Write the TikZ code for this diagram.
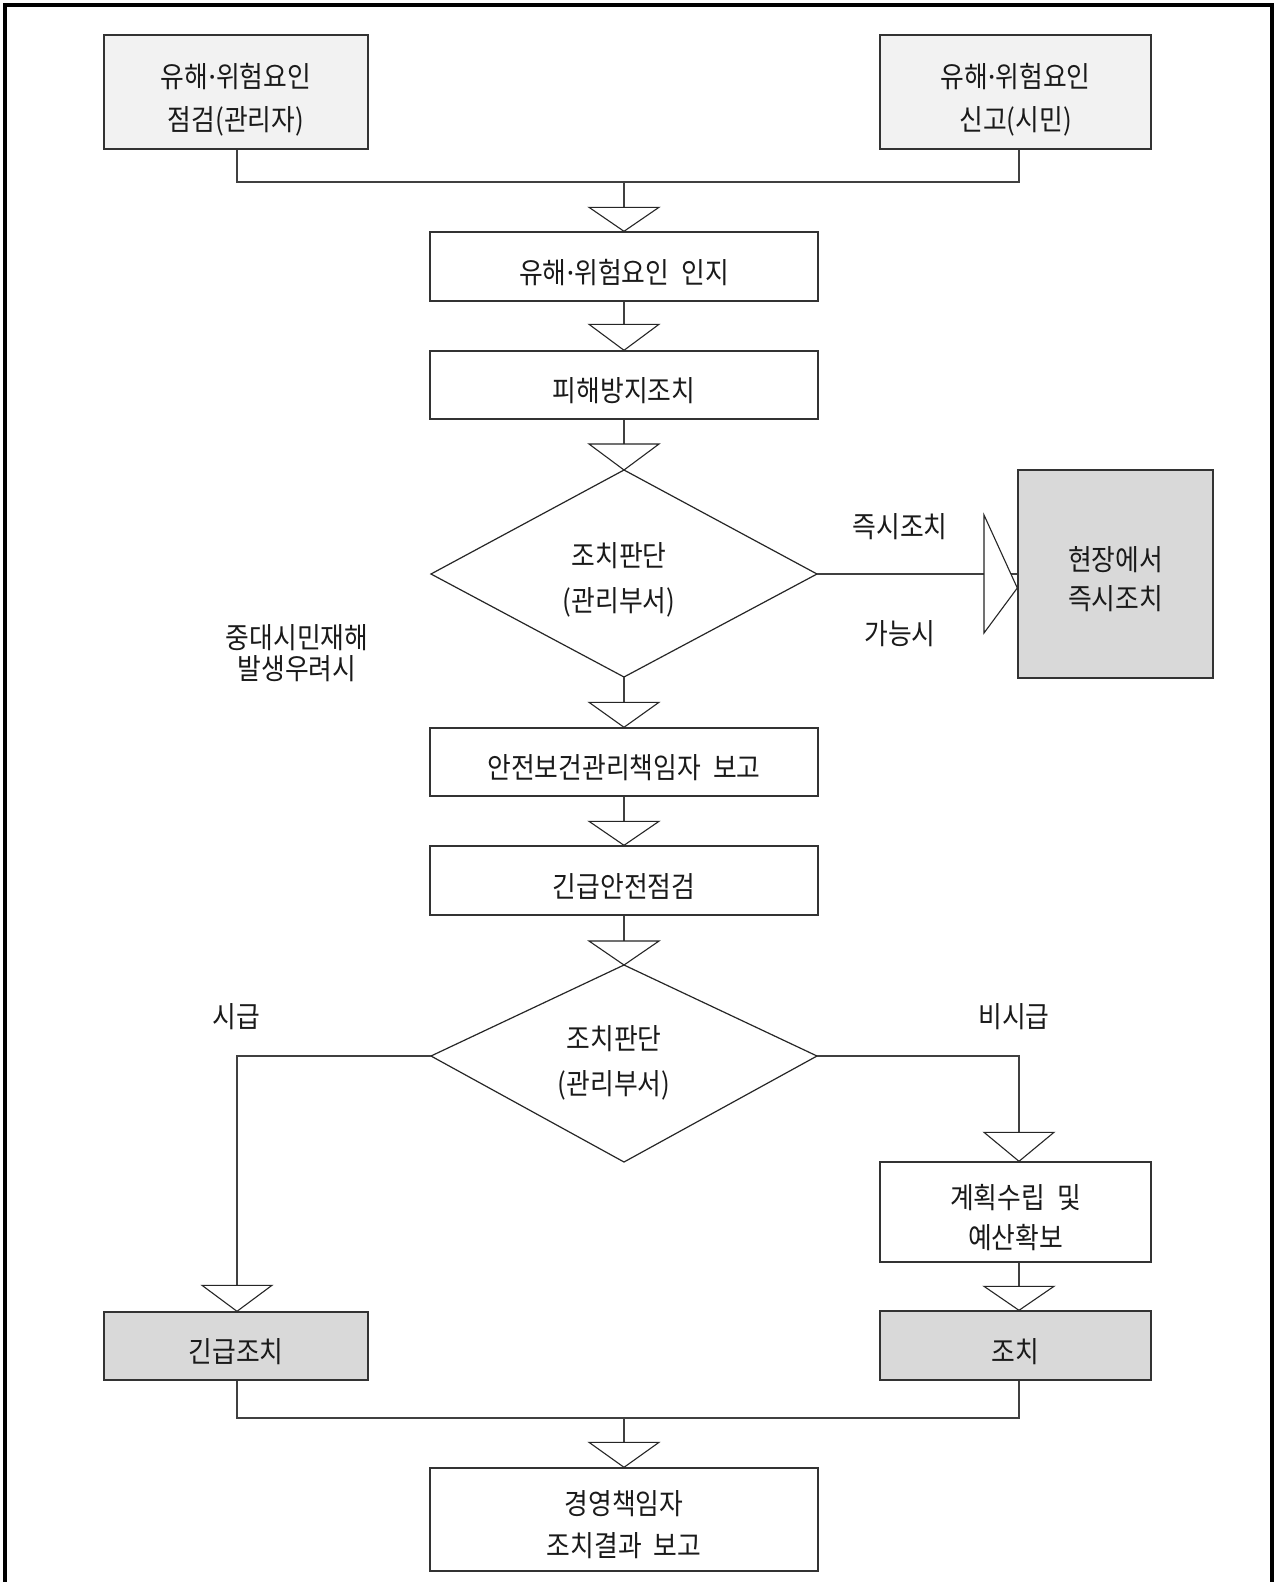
\documentclass[tikz,border=0pt]{standalone}
\usepackage{fontspec}
\newfontfamily\kr[FakeStretch=0.89]{Noto Sans CJK KR}
\newfontfamily\latinf{Noto Sans}
\definecolor{lightfill}{HTML}{F2F2F2}
\definecolor{grayfill}{HTML}{D9D9D9}
\definecolor{ink}{HTML}{1A1A1A}
\newcommand\downtri[2]{\draw[tri] (#1) ++(-35,-#2) -- ++(70,0) -- (#1) -- cycle;}
\newcommand\mdot{{\latinf ·}}
\newcommand\ksp{\hspace{12pt}}
\newcommand\lowr[1]{\raisebox{-8pt}[\height][\depth]{\begin{tabular}{@{}c@{}}#1\end{tabular}}}
\begin{document}
\begin{tikzpicture}[x=1pt,y=-1pt,
  txt/.style={inner sep=0pt, align=center, text=ink, font=\kr\fontsize{29}{43}\selectfont},
  box/.style={txt, draw=black!80, line width=1.4pt},
  lbox/.style={box, fill=lightfill},
  gbox/.style={box, fill=grayfill},
  conn/.style={draw=black!75, line width=1.3pt},
  shapeline/.style={draw=black!85, line width=1.2pt},
  tri/.style={draw=black!85, fill=white, line width=1.1pt, line join=miter}
]
\useasboundingbox (0,0) rectangle (1276,1582);
\clip (0,0) rectangle (1276,1582);
\fill[white] (0,0) rectangle (1276,1582);
% frame
\draw[line width=3.5pt] (5,1600) -- (5,5) -- (1272,5) -- (1272,1600);

% column coordinates
\coordinate (cL) at (237,0);
\coordinate (cM) at (624,0);
\coordinate (cR) at (1019,0);

% boxes
\node[lbox, minimum width=264, minimum height=114] (b1) at (236,92) {\lowr{유해\mdot 위험요인\\점검(관리자)}};
\node[lbox, minimum width=271, minimum height=114] (b2) at (1015.5,92) {\lowr{유해\mdot 위험요인\\신고(시민)}};
\node[box, minimum width=388, minimum height=69] (b3) at (624,266.5) {\lowr{유해\mdot 위험요인\ksp 인지}};
\node[box, minimum width=388, minimum height=68] (b4) at (624,385) {\lowr{피해방지조치}};

% decision 1
\coordinate (d1t) at (624,470);
\coordinate (d1r) at (817,574);
\coordinate (d1b) at (624,677);
\coordinate (d1l) at (431,574);
\draw[shapeline] (d1t) -- (d1r) -- (d1b) -- (d1l) -- cycle;
\node[txt, font=\kr\fontsize{29}{45}\selectfont] (d1) at (619,580) {조치판단\\(관리부서)};

\node[gbox, minimum width=195, minimum height=208] (b5) at (1115.5,574) {\fontsize{29}{39}\selectfont\lowr{현장에서\\즉시조치}};
\node[txt] (l1) at (900,527) {즉시조치};
\node[txt] (l2) at (900,634) {가능시};
\node[txt, font=\kr\fontsize{29}{31}\selectfont] (l3) at (297,653) {중대시민재해\\발생우려시};

\node[box, minimum width=388, minimum height=68] (b6) at (624,762) {\lowr{안전보건관리책임자\ksp 보고}};
\node[box, minimum width=388, minimum height=69] (b7) at (624,880.5) {\lowr{긴급안전점검}};

% decision 2
\coordinate (d2t) at (624,965);
\coordinate (d2r) at (817,1056);
\coordinate (d2b) at (624,1162);
\coordinate (d2l) at (431,1056);
\draw[shapeline] (d2t) -- (d2r) -- (d2b) -- (d2l) -- cycle;
\node[txt, font=\kr\fontsize{29}{45}\selectfont] (d2) at (614,1063) {조치판단\\(관리부서)};

\node[txt] (l4) at (236,1017) {시급};
\node[txt] (l5) at (1014,1017) {비시급};

\node[box, minimum width=271, minimum height=100] (b9) at (1015.5,1212) {\fontsize{29}{40}\selectfont\lowr{계획수립\ksp 및\\예산확보}};
\node[gbox, minimum width=271, minimum height=69] (b10) at (1015.5,1345.5) {\lowr{조치}};
\node[gbox, minimum width=264, minimum height=68] (b8) at (236,1346) {\lowr{긴급조치}};
\node[box, minimum width=388, minimum height=103] (b11) at (624,1519.5) {\fontsize{29}{42}\selectfont\lowr{경영책임자\\조치결과\ksp 보고}};

% connectors
\coordinate (j1) at (624,182);
\draw[conn] (b1.south -| cL) |- (j1);
\draw[conn] (b2.south -| cR) |- (j1);
\draw[conn] (j1) -- (b3.north);
\draw[conn] (b3.south) -- (b4.north);
\draw[conn] (b4.south) -- (d1t);
\draw[conn] (d1r) -- (b5.west);
\draw[conn] (d1b) -- (b6.north);
\draw[conn] (b6.south) -- (b7.north);
\draw[conn] (b7.south) -- (d2t);
\draw[conn] (d2l) -| (b8.north -| cL);
\draw[conn] (d2r) -| (b9.north -| cR);
\draw[conn] (b9.south -| cR) -- (b10.north -| cR);
\coordinate (j2) at (624,1418);
\draw[conn] (b8.south -| cL) |- (j2);
\draw[conn] (b10.south -| cR) |- (j2);
\draw[conn] (j2) -- (b11.north);

% triangle heads
\downtri{b3.north}{24}
\downtri{b4.north}{26}
\downtri{d1t}{26}
\downtri{b6.north}{25}
\downtri{b7.north}{24}
\downtri{d2t}{24}
\downtri{b9.north -| cR}{29}
\downtri{b10.north -| cR}{24}
\downtri{b8.north -| cL}{26}
\downtri{b11.north}{25}
% side triangle to b5
\draw[tri] (984,515) -- (984,633) -- (b5.west |- 0,588) -- cycle;
\end{tikzpicture}
\end{document}
